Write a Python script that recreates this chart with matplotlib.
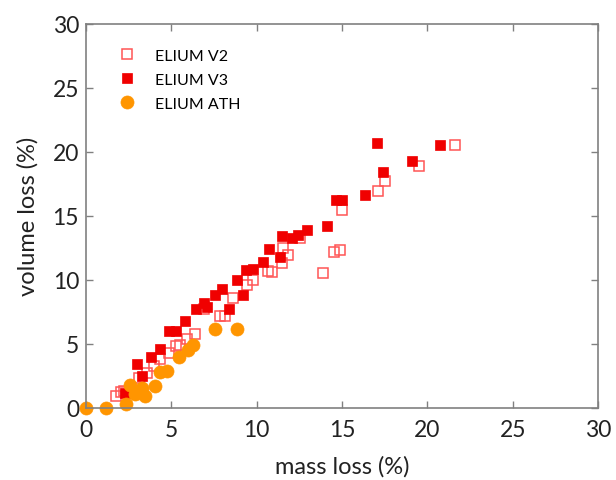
import matplotlib
matplotlib.use("Agg")
import matplotlib.pyplot as plt

plt.rcParams['font.family'] = ['Lato', 'DejaVu Sans']

# ELIUM V2 (open squares)
v2_mass = [1.75, 2.05, 2.2, 3.1, 3.6, 3.98, 4.34, 4.88, 5.25, 5.5, 5.92, 6.4, 6.92,
           7.85, 8.14, 8.63, 9.41, 9.8, 10.68, 10.88, 11.47, 11.56, 11.85, 12.53,
           13.86, 14.53, 14.88, 15.02, 17.09, 17.52, 19.5, 21.62]
v2_vol = [0.9, 1.25, 1.35, 2.35, 2.7, 3.3, 3.85, 4.3, 4.85, 4.9, 5.36, 5.78, 7.73,
          7.2, 7.15, 8.6, 9.6, 9.95, 10.7, 10.6, 11.33, 12.48, 11.9, 13.3,
          10.5, 12.16, 12.3, 15.43, 16.93, 17.7, 18.9, 20.5]

# ELIUM V3 (filled squares)
v3_mass = [2.3, 2.97, 3.3, 3.81, 4.34, 4.88, 5.3, 5.8, 6.45, 6.91, 7.07, 7.54, 7.95,
           8.36, 8.83, 9.18, 9.36, 9.8, 10.4, 10.72, 11.38, 11.5, 12.05, 12.44,
           12.93, 14.1, 14.65, 15.02, 16.34, 17.03, 17.42, 19.08, 20.74]
v3_vol = [1.2, 3.45, 2.5, 3.96, 4.6, 6.04, 5.98, 6.77, 7.75, 8.23, 7.87, 8.8, 9.3,
          7.73, 10.0, 8.83, 10.8, 10.85, 11.4, 12.4, 11.76, 13.45, 13.3, 13.5,
          13.9, 14.2, 16.2, 16.25, 16.6, 20.7, 18.4, 19.3, 20.5]

# ELIUM ATH (circles)
ath_mass = [0, 1.2, 2.33, 2.58, 2.9, 3.26, 3.46, 4.02, 4.34, 4.75, 5.45, 5.97, 6.25,
            7.56, 8.83]
ath_vol = [0, 0, 0.35, 1.8, 1.1, 1.55, 0.96, 1.68, 2.8, 2.88, 3.95, 4.5, 4.9,
           6.17, 6.17]

labels = ['ELIUM V2', 'ELIUM V3', 'ELIUM ATH']
ticks = [0, 5, 10, 15, 20, 25, 30]

fig = plt.figure(figsize=(6.16, 4.81), dpi=100)
ax = fig.add_axes([0.1396, 0.1497, 0.8312, 0.7993])

ax.plot(v2_mass, v2_vol, linestyle='none', marker='s', markersize=7.2,
        markerfacecolor='none', markeredgecolor='#FF5555', markeredgewidth=1.1,
        label=labels[0], clip_on=False)
ax.plot(v3_mass, v3_vol, linestyle='none', marker='s', markersize=7.2,
        markerfacecolor='#F00000', markeredgecolor='#F00000', markeredgewidth=0.5,
        label=labels[1], clip_on=False)
ax.plot(ath_mass, ath_vol, linestyle='none', marker='o', markersize=9.4,
        markerfacecolor='#FF9500', markeredgecolor='#FF9500', markeredgewidth=0.5,
        label=labels[2], clip_on=False)

ax.set_xlim(0, 30)
ax.set_ylim(0, 30)
ax.set_xticks(ticks)
ax.set_yticks(ticks)
ax.tick_params(direction='in', length=5, width=1, color='#808080',
               top=True, right=True, labelsize=16.5, labelcolor='#222222')
ax.tick_params(axis='x', pad=8)
ax.tick_params(axis='y', pad=5)
for sp in ax.spines.values():
    sp.set_color('#808080')
    sp.set_linewidth(1.2)

ax.set_xlabel('mass loss (%)', fontsize=17, color='#222222', labelpad=11)
ax.set_ylabel('volume loss (%)', fontsize=17, color='#222222', labelpad=10)

leg = ax.legend(loc='upper left', frameon=False, fontsize=11.5, handlelength=1.0,
                handletextpad=1.25, borderaxespad=0.0, labelspacing=0.62,
                bbox_to_anchor=(0.052, 0.952))

fig.savefig('out.png', dpi=100)
